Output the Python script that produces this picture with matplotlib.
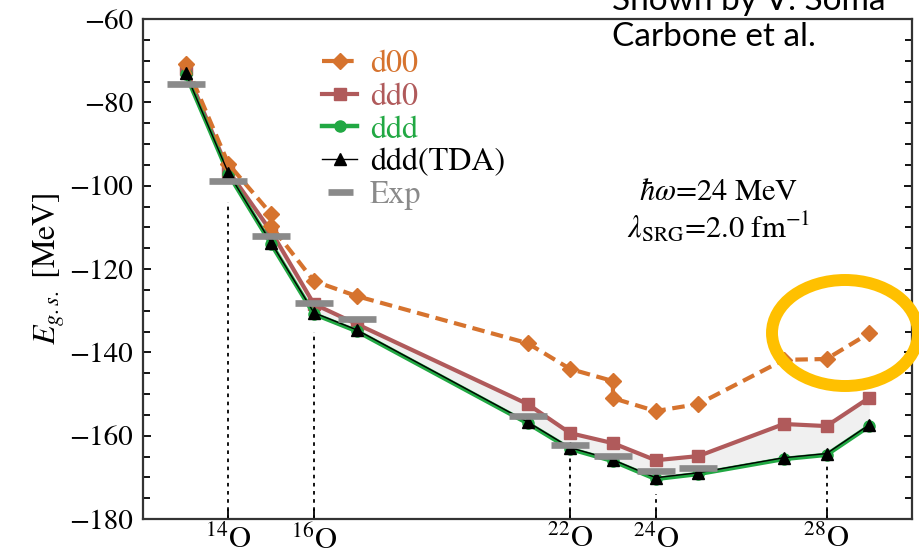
import numpy as np
import matplotlib.pyplot as plt
from matplotlib.patches import Ellipse

plt.rcParams['font.family'] = ['STIXGeneral', 'DejaVu Serif']
plt.rcParams['mathtext.fontset'] = 'stix'

# mass numbers and ground state energies [MeV]
A_d00 = [13, 14, 15, 15, 16, 17, 21, 22, 23, 23, 24, 25, 27, 28, 29]
E_d00 = [-70.8, -94.8, -106.8, -109.7, -122.9, -126.5, -137.8, -144.0,
         -146.9, -151.0, -154.1, -152.4, -141.8, -141.6, -135.4]

A_calc = [13, 14, 15, 16, 17, 21, 22, 23, 24, 25, 27, 28, 29]
E_dd0 = [-72.0, -96.5, -111.0, -128.4, -133.2, -152.4, -159.4, -161.8,
         -165.9, -164.9, -157.2, -157.7, -150.9]
E_ddd = [-73.2, -97.2, -114.0, -130.8, -134.9, -157.0, -163.2, -166.1,
         -170.4, -169.2, -165.6, -164.6, -157.7]
E_tda = [-73.0, -97.0, -113.7, -130.5, -134.6, -156.7, -162.9, -165.8,
         -170.1, -168.9, -165.3, -164.3, -157.4]

A_exp = [13, 14, 15, 16, 17, 21, 22, 23, 24, 25]
E_exp = [-75.6, -98.9, -112.1, -128.2, -132.0, -155.3, -162.2, -164.9,
         -168.5, -167.8]

A_magic = [14, 16, 22, 24, 28]
magic_labels = [r'$^{14}$O', r'$^{16}$O', r'$^{22}$O', r'$^{24}$O', r'$^{28}$O']
guide_top = [-104, -135, -165, -174, -167]

c_d00 = '#d6732e'
c_dd0 = '#b05a5b'
c_ddd = '#21a843'
c_exp = '#8a8a8a'

W, H = 920, 556
fig = plt.figure(figsize=(W / 100, H / 100), dpi=100)
ax = fig.add_axes([143 / W, 1 - 519 / H, (912 - 143) / W, 500 / H])

ax.fill_between(A_calc, E_dd0, E_ddd, color='#f0f0f0', lw=0, zorder=1)
ax.vlines(A_magic, -180, guide_top, colors='black', lw=1.3,
          linestyles=(0, (2, 2.5)), zorder=1.5)

ax.plot(A_d00, E_d00, color=c_d00, lw=3, ls=(0, (3, 1.6)), marker='D',
        ms=8, label='d00', zorder=4)
ax.plot(A_calc, E_dd0, color=c_dd0, lw=3, marker='s', ms=8,
        label='dd0', zorder=3)
ax.plot(A_calc, E_ddd, color=c_ddd, lw=3.2, marker='o', ms=8,
        label='ddd', zorder=3.5)
ax.plot(A_calc, E_tda, color='black', lw=1, marker='^', ms=8,
        label='ddd(TDA)', zorder=4.5)
ax.plot(A_exp, E_exp, ls='none', marker='_', ms=28, mew=4.8, color=c_exp,
        label='Exp', zorder=6)

ax.set_xlim(12, 30)
ax.set_ylim(-180, -60)
ax.set_yticks(np.arange(-180, -59, 20))
ax.set_yticks(np.arange(-180, -59, 5), minor=True)
ax.set_xticks(A_magic)
ax.set_xticklabels(magic_labels)
ax.tick_params(axis='y', which='both', direction='in', right=True,
               labelsize=21, pad=7, width=1.3)
ax.tick_params(axis='y', which='major', length=6)
ax.tick_params(axis='y', which='minor', length=5)
ax.tick_params(axis='x', direction='in', length=7, width=1.3,
               labelsize=22, pad=4)
for s in ax.spines.values():
    s.set_linewidth(1.6)
    s.set_color('#333333')

ax.set_ylabel(r'$E_{g.s.}$ [MeV]', fontsize=23, labelpad=2)

leg = ax.legend(loc='upper left', bbox_to_anchor=(322 / W, 1 - 50 / H),
                bbox_transform=fig.transFigure, frameon=False, fontsize=23,
                numpoints=1, handlelength=1.1, handletextpad=0.4,
                labelspacing=0.1, borderpad=0, borderaxespad=0)
for t, c in zip(leg.get_texts(), [c_d00, c_dd0, c_ddd, 'black', c_exp]):
    t.set_color(c)
leg.legend_handles[4].set_markersize(18)

ax.text(0.748, 0.614, r'$\hbar\omega$=24 MeV' + '\n' +
        r'$\lambda_{\rm SRG}$=2.0 fm$^{-1}$', transform=ax.transAxes,
        ha='center', va='center', fontsize=22, linespacing=1.1)

fig.text(612 / W, 1 - 10 / H, 'Shown by V. Somà', family='Lato',
         fontsize=24, ha='left', va='baseline')
fig.text(612 / W, 1 - 46 / H, 'Carbone et al.', family='Lato',
         fontsize=24, ha='left', va='baseline')

fig.add_artist(Ellipse((845 / W, 1 - 333 / H), 146 / W, 106 / H,
                       transform=fig.transFigure, fill=False,
                       ec='#ffc000', lw=8.6))

fig.savefig('out.png', dpi=100)
